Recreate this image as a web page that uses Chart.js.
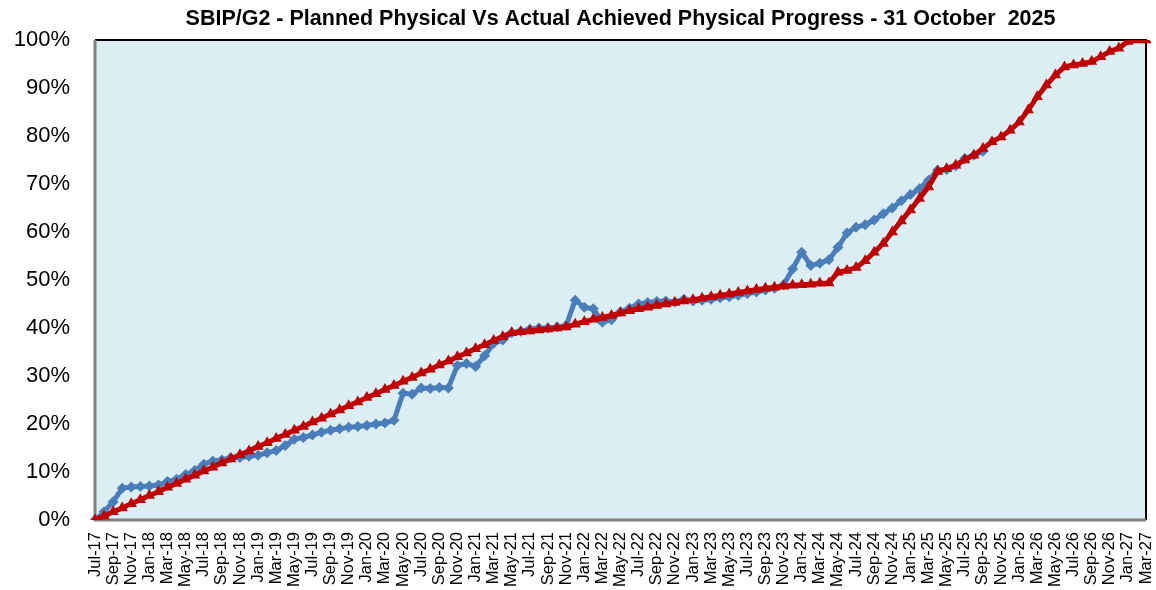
<!DOCTYPE html>
<html>
<head>
<meta charset="utf-8">
<script src="https://cdn.jsdelivr.net/npm/chart.js@4/dist/chart.umd.min.js"></script>
<style>
  html, body { margin: 0; padding: 0; background: #fff; }
  #wrap { width: 1156px; height: 590px; }
</style>
</head>
<body>
<div id="wrap"><canvas id="progress"></canvas></div>
<script>
// Monthly axis Jul-17 .. Mar-27, every second month labelled (as in the sheet)
const MONTHS = ["Jan","Feb","Mar","Apr","May","Jun","Jul","Aug","Sep","Oct","Nov","Dec"];
const START_YEAR = 2017, START_MONTH = 6, MONTH_COUNT = 117;

const labels = [];
for (let i = 0; i < MONTH_COUNT; i++) {
  const m = (START_MONTH + i) % 12;
  const y = START_YEAR + Math.floor((START_MONTH + i) / 12);
  labels.push(MONTHS[m] + "-" + String(y).slice(2));
}

// Planned physical progress (%)
const planned = [
  0.0, 0.8, 1.7, 2.5, 3.4, 4.2, 5.1, 5.9, 6.8, 7.6,
  8.5, 9.3, 10.2, 11.0, 11.9, 12.7, 13.6, 14.4, 15.3, 16.1,
  17.0, 17.8, 18.7, 19.5, 20.4, 21.2, 22.1, 22.9, 23.8, 24.6,
  25.5, 26.3, 27.2, 28.0, 28.9, 29.7, 30.6, 31.4, 32.3, 33.1,
  34.0, 34.8, 35.7, 36.5, 37.4, 38.2, 39.0, 39.2, 39.4, 39.6,
  39.8, 40.0, 40.2, 40.8, 41.3, 41.8, 42.2, 42.6, 43.1, 43.6,
  44.0, 44.3, 44.7, 45.0, 45.3, 45.6, 45.9, 46.2, 46.5, 46.8,
  47.1, 47.4, 47.7, 48.0, 48.3, 48.5, 48.7, 48.9, 49.0, 49.1,
  49.3, 49.4, 51.6, 52.0, 52.6, 54.0, 55.8, 57.6, 60.0, 62.3,
  64.6, 67.0, 69.4, 72.6, 73.2, 73.9, 75.0, 76.0, 77.4, 78.8,
  79.8, 81.2, 82.9, 85.4, 88.2, 90.6, 92.7, 94.4, 94.8, 95.1,
  95.5, 96.5, 97.6, 98.3, 99.7, 100.0, 100.0
];

// Actual achieved physical progress (%), up to Sep-25
const actual = [
  0.0, 1.7, 3.8, 6.6, 6.9, 7.0, 7.1, 7.3, 8.0, 8.5,
  9.5, 10.3, 11.6, 12.3, 12.5, 13.0, 13.0, 13.3, 13.5, 14.0,
  14.5, 15.5, 16.8, 17.2, 17.7, 18.3, 18.7, 19.0, 19.3, 19.5,
  19.7, 20.0, 20.2, 20.8, 26.4, 26.2, 27.5, 27.4, 27.6, 27.5,
  32.2, 32.6, 32.0, 34.2, 36.8, 37.5, 39.0, 39.3, 39.8, 40.0,
  40.0, 40.2, 40.5, 45.8, 44.3, 44.0, 41.2, 41.7, 43.4, 44.1,
  45.0, 45.3, 45.5, 45.6, 45.4, 46.0, 45.6, 45.8, 46.0, 46.3,
  46.5, 46.8, 47.2, 47.5, 47.9, 48.3, 49.0, 52.3, 55.8, 53.0,
  53.5, 54.2, 56.8, 59.8, 61.0, 61.5, 62.5, 63.8, 65.0, 66.5,
  67.8, 69.0, 70.8, 72.9, 73.0, 73.8, 75.3, 76.0, 76.8
];

const yTicks = [0, 10, 20, 30, 40, 50, 60, 70, 80, 90, 100];

const TITLE = "SBIP/G2 - Planned Physical Vs Actual Achieved Physical Progress - 31 October  2025";
const FONT = "Liberation Sans, Arial, sans-serif";

// Light-blue plot area with grey left/bottom and black top/right edges,
// title centred over the plot area rather than the whole canvas
const plotFrame = {
  id: "plotFrame",
  beforeDatasetsDraw(chart) {
    const { ctx, chartArea: a } = chart;
    ctx.save();
    ctx.fillStyle = "#DBEEF3";
    ctx.fillRect(a.left, a.top, a.right - a.left, a.bottom - a.top);
    ctx.lineWidth = 2;
    ctx.strokeStyle = "#000";
    ctx.beginPath();
    ctx.moveTo(a.left, a.top);
    ctx.lineTo(a.right, a.top);
    ctx.lineTo(a.right, a.bottom);
    ctx.stroke();
    ctx.lineWidth = 3;
    ctx.strokeStyle = "#808080";
    ctx.beginPath();
    ctx.moveTo(a.left, a.top);
    ctx.lineTo(a.left, a.bottom);
    ctx.lineTo(a.right, a.bottom);
    ctx.stroke();
    ctx.restore();
  },
  afterDraw(chart) {
    const { ctx, chartArea: a } = chart;
    ctx.save();
    ctx.fillStyle = "#000";
    ctx.font = "bold 21.5px " + FONT;
    ctx.textAlign = "center";
    ctx.textBaseline = "middle";
    ctx.fillText(TITLE, (a.left + a.right) / 2, 19);
    ctx.restore();
  }
};

new Chart(document.getElementById("progress"), {
  type: "line",
  data: {
    labels,
    datasets: [
      {
        label: "Actual",
        data: actual,
        order: 2,
        borderColor: "#4A7EBB",
        backgroundColor: "#4A7EBB",
        borderWidth: 5,
        pointStyle: "rectRot",
        pointRadius: 5.5,
        pointBorderWidth: 0,
        tension: 0,
      },
      {
        label: "Planned",
        data: planned,
        order: 1,
        borderColor: "#C00000",
        backgroundColor: "#C00000",
        borderWidth: 5,
        pointStyle: "triangle",
        pointRadius: 6.5,
        pointBorderWidth: 0,
        tension: 0,
      },
    ],
  },
  options: {
    responsive: true,
    maintainAspectRatio: false,
    animation: false,
    layout: { padding: { left: 0, right: 10, top: 40, bottom: 0 } },
    plugins: {
      legend: { display: false },
      tooltip: { enabled: false },
      title: { display: false },
    },
    scales: {
      x: {
        offset: false,
        grid: { display: false },
        border: { display: false },
        ticks: {
          autoSkip: false,
          maxRotation: 90,
          minRotation: 90,
          padding: 4,
          color: "#000",
          font: { family: FONT, size: 16.5 },
          callback: (v, i) => (i % 2 === 0 ? labels[i] : ""),
        },
        afterFit: (s) => { s.height = 70; s.paddingLeft = 0; s.paddingRight = 0; },
      },
      y: {
        min: 0,
        max: 100,
        grid: { display: false },
        border: { display: false },
        afterBuildTicks: (s) => { s.ticks = yTicks.map(v => ({ value: v })); },
        ticks: {
          padding: 17,
          color: "#000",
          font: { family: FONT, size: 22 },
          callback: (v) => v + "%",
        },
        afterFit: (s) => { s.width = 95; s.paddingTop = 0; s.paddingBottom = 0; },
      },
    },
  },
  plugins: [plotFrame],
});
</script>
</body>
</html>
